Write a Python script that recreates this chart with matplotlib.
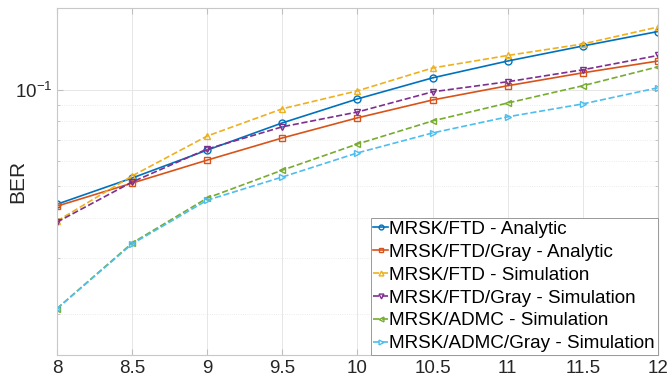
import numpy as np
import matplotlib
matplotlib.use("Agg")
import matplotlib.pyplot as plt
from matplotlib.ticker import LogLocator, NullFormatter, LogFormatterSciNotation

plt.rcParams['font.family'] = ['Liberation Sans', 'DejaVu Sans']

# values
snr = [8, 8.5, 9, 9.5, 10, 10.5, 11, 11.5, 12]
ftd_analytic = [0.0440, 0.0531, 0.0649, 0.0789, 0.0937, 0.109, 0.123, 0.137, 0.152]
ftd_gray_analytic = [0.0434, 0.0512, 0.0604, 0.0708, 0.0818, 0.093, 0.103, 0.113, 0.123]
ftd_sim = [0.0390, 0.0539, 0.0718, 0.0873, 0.0993, 0.117, 0.128, 0.139, 0.157]
ftd_gray_sim = [0.0387, 0.0516, 0.0654, 0.0767, 0.0853, 0.0986, 0.106, 0.1155, 0.128]
admc_sim = [0.0208, 0.0333, 0.0460, 0.0562, 0.0678, 0.080, 0.091, 0.103, 0.118]
admc_gray_sim = [0.0208, 0.0331, 0.0453, 0.0535, 0.0636, 0.0734, 0.0824, 0.0904, 0.1015]

labels = ['MRSK/FTD - Analytic', 'MRSK/FTD/Gray - Analytic', 'MRSK/FTD - Simulation',
          'MRSK/FTD/Gray - Simulation', 'MRSK/ADMC - Simulation', 'MRSK/ADMC/Gray - Simulation']
series = [ftd_analytic, ftd_gray_analytic, ftd_sim, ftd_gray_sim, admc_sim, admc_gray_sim]
colors = ['#0072BD', '#D95319', '#EDB120', '#7E2F8E', '#77AC30', '#4DBEEE']
markers = ['o', 's', '^', 'v', '<', '>']
styles = ['-', '-', '--', '--', '--', '--']

fig = plt.figure(figsize=(6.7, 3.79), dpi=100)
ax = fig.add_axes([0.085, 0.063, 0.897, 0.916])

for y, lab, c, m, ls in zip(series, labels, colors, markers, styles):
    ax.plot(snr, y, ls, color=c, marker=m, markersize=5, markerfacecolor='none',
            markeredgewidth=1.0, linewidth=1.2, label=lab)

ax.set_yscale('log')
ax.set_xlim(8, 12)
ax.set_ylim(0.0149, 0.180)
ax.set_xticks(snr)
ax.set_xticklabels(['8', '8.5', '9', '9.5', '10', '10.5', '11', '11.5', '12'])
ax.yaxis.set_major_locator(LogLocator(base=10))
ax.yaxis.set_major_formatter(LogFormatterSciNotation())
ax.yaxis.set_minor_locator(LogLocator(base=10, subs=np.arange(2, 10)))
ax.yaxis.set_minor_formatter(NullFormatter())

ax.grid(True, which='major', color='#e6e6e6', linewidth=0.7)
ax.grid(True, which='minor', color='#e6e6e6', linewidth=0.6, linestyle=':')
ax.tick_params(which='both', direction='in', colors='#bfbfbf', labelcolor='#262626',
               labelsize=13.5, top=True, right=True)
ax.tick_params(which='major', length=4)
ax.tick_params(which='minor', length=2.5)
for s in ax.spines.values():
    s.set_color('#c8c8c8')

ax.set_ylabel('BER', fontsize=15, color='#262626')
ax.yaxis.set_label_coords(-0.05, 0.5)

leg = ax.legend(loc='lower right', fontsize=13.6, handlelength=0.75, handletextpad=0.1,
                labelspacing=0.3, borderpad=0.15, borderaxespad=0.0, fancybox=False,
                framealpha=1, edgecolor='#999999', markerscale=0.7)
leg.get_frame().set_linewidth(0.7)

fig.savefig('out.png', dpi=100)
